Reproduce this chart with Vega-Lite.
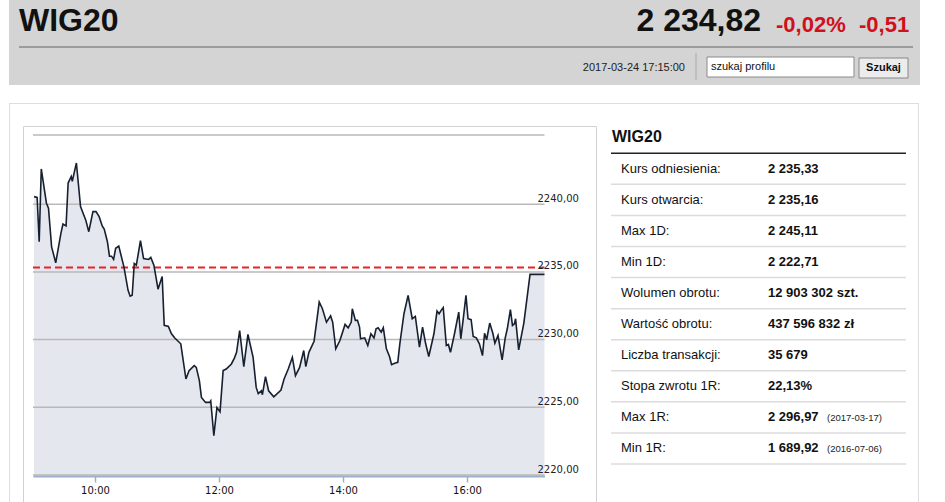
{
  "$schema": "https://vega.github.io/schema/vega-lite/v6.json",
  "background": "white",
  "padding": {"left": 8, "top": 0, "right": 0, "bottom": 0},
  "bounds": "flush",
  "spacing": 18,
  "config": {"view": {"stroke": null}, "text": {"font": "Liberation Sans"}},
  "vconcat": [
    {
      "width": 911,
      "height": 85,
      "view": {"fill": "#d4d4d4", "stroke": null},
      "layer": [
        {
          "data": {"values": [{"s": "WIG20"}]},
          "mark": {"type": "text", "fontSize": 32, "fontWeight": "bold", "align": "left", "baseline": "alphabetic", "color": "#111"},
          "encoding": {"text": {"field": "s"}, "x": {"value": 10}, "y": {"value": 31}}
        },
        {
          "data": {"values": [{"s": "2 234,82"}]},
          "mark": {"type": "text", "fontSize": 32, "fontWeight": "bold", "align": "right", "baseline": "alphabetic", "color": "#111"},
          "encoding": {"text": {"field": "s"}, "x": {"value": 752}, "y": {"value": 31}}
        },
        {
          "data": {"values": [{"s": "-0,02%"}]},
          "mark": {"type": "text", "fontSize": 22, "fontWeight": "bold", "align": "left", "baseline": "alphabetic", "color": "#d0101a"},
          "encoding": {"text": {"field": "s"}, "x": {"value": 767}, "y": {"value": 32}}
        },
        {
          "data": {"values": [{"s": "-0,51"}]},
          "mark": {"type": "text", "fontSize": 22, "fontWeight": "bold", "align": "left", "baseline": "alphabetic", "color": "#d0101a"},
          "encoding": {"text": {"field": "s"}, "x": {"value": 850}, "y": {"value": 32}}
        },
        {
          "data": {"values": [{}]},
          "mark": {"type": "rule", "stroke": "#9c9c9c", "strokeWidth": 2},
          "encoding": {"x": {"value": 10}, "x2": {"value": 904}, "y": {"value": 47}}
        },
        {
          "data": {"values": [{"s": "2017-03-24 17:15:00"}]},
          "mark": {"type": "text", "fontSize": 11, "align": "right", "baseline": "middle", "color": "#222"},
          "encoding": {"text": {"field": "s"}, "x": {"value": 676}, "y": {"value": 68}}
        },
        {
          "data": {"values": [{}]},
          "mark": {"type": "rule", "stroke": "#a8a8a8", "strokeWidth": 1},
          "encoding": {"x": {"value": 687}, "y": {"value": 53}, "y2": {"value": 80}}
        },
        {
          "data": {"values": [{}]},
          "mark": {"type": "rect", "fill": "white", "stroke": "#8a8a8a", "strokeWidth": 1},
          "encoding": {"x": {"value": 698}, "x2": {"value": 845}, "y": {"value": 57}, "y2": {"value": 77}}
        },
        {
          "data": {"values": [{"s": "szukaj profilu"}]},
          "mark": {"type": "text", "fontSize": 11, "align": "left", "baseline": "middle", "color": "#111"},
          "encoding": {"text": {"field": "s"}, "x": {"value": 702}, "y": {"value": 67}}
        },
        {
          "data": {"values": [{}]},
          "mark": {"type": "rect", "fill": "#ececec", "stroke": "#888", "strokeWidth": 1},
          "encoding": {"x": {"value": 850}, "x2": {"value": 899}, "y": {"value": 58}, "y2": {"value": 78}}
        },
        {
          "data": {"values": [{"s": "Szukaj"}]},
          "mark": {"type": "text", "fontSize": 11, "fontWeight": "bold", "align": "center", "baseline": "middle", "color": "#111"},
          "encoding": {"text": {"field": "s"}, "x": {"value": 874.5}, "y": {"value": 68}}
        }
      ]
    },
    {
      "width": 910,
      "height": 399,
      "view": {"stroke": null},
      "layer": [
        {
          "data": {"values": [{}]},
          "layer": [
            {"mark": {"type": "rule", "stroke": "#dedede"}, "encoding": {"x": {"value": 0}, "x2": {"value": 910}, "y": {"value": 0.5}}},
            {"mark": {"type": "rule", "stroke": "#dedede"}, "encoding": {"x": {"value": 0.5}, "y": {"value": 0}, "y2": {"value": 399}}},
            {"mark": {"type": "rule", "stroke": "#dedede"}, "encoding": {"x": {"value": 909.5}, "y": {"value": 0}, "y2": {"value": 399}}},
            {"mark": {"type": "rule", "stroke": "#d2d2d2"}, "encoding": {"x": {"value": 14.5}, "x2": {"value": 587.5}, "y": {"value": 23.5}}},
            {"mark": {"type": "rule", "stroke": "#d2d2d2"}, "encoding": {"x": {"value": 14.5}, "y": {"value": 23.5}, "y2": {"value": 399}}},
            {"mark": {"type": "rule", "stroke": "#d2d2d2"}, "encoding": {"x": {"value": 587.5}, "y": {"value": 23.5}, "y2": {"value": 399}}}
          ]
        },
        {
          "layer": [
            {
              "data": {
                "values": [
                  {"t": "09:01", "v": 2240.56}, {"t": "09:04", "v": 2240.5}, {"t": "09:06", "v": 2237.23}, {"t": "09:08", "v": 2242.6},
                  {"t": "09:13", "v": 2240.07}, {"t": "09:15", "v": 2239.7}, {"t": "09:18", "v": 2236.85}, {"t": "09:22", "v": 2235.67},
                  {"t": "09:27", "v": 2237.85}, {"t": "09:29", "v": 2238.54}, {"t": "09:32", "v": 2238.4}, {"t": "09:34", "v": 2241.56},
                  {"t": "09:37", "v": 2242.05}, {"t": "09:38", "v": 2241.68}, {"t": "09:42", "v": 2243.04}, {"t": "09:46", "v": 2239.82},
                  {"t": "09:51", "v": 2238.84}, {"t": "09:54", "v": 2237.97}, {"t": "09:58", "v": 2239.45}, {"t": "10:01", "v": 2239.45},
                  {"t": "10:04", "v": 2239.08}, {"t": "10:07", "v": 2238.39}, {"t": "10:09", "v": 2238.14}, {"t": "10:12", "v": 2237.23},
                  {"t": "10:14", "v": 2236.16}, {"t": "10:16", "v": 2236.16}, {"t": "10:18", "v": 2235.92}, {"t": "10:20", "v": 2236.74},
                  {"t": "10:23", "v": 2236.9}, {"t": "10:28", "v": 2235.37}, {"t": "10:32", "v": 2233.64}, {"t": "10:34", "v": 2233.2},
                  {"t": "10:36", "v": 2233.27}, {"t": "10:38", "v": 2235.62}, {"t": "10:40", "v": 2235.5}, {"t": "10:44", "v": 2237.3},
                  {"t": "10:47", "v": 2235.99}, {"t": "10:52", "v": 2235.92}, {"t": "10:54", "v": 2236.07}, {"t": "10:57", "v": 2235.5},
                  {"t": "11:01", "v": 2233.72}, {"t": "11:05", "v": 2234.66}, {"t": "11:07", "v": 2231.05}, {"t": "11:11", "v": 2230.97},
                  {"t": "11:14", "v": 2230.43}, {"t": "11:17", "v": 2230.13}, {"t": "11:23", "v": 2229.69}, {"t": "11:28", "v": 2227.09},
                  {"t": "11:31", "v": 2227.71}, {"t": "11:36", "v": 2228.08}, {"t": "11:38", "v": 2227.95}, {"t": "11:41", "v": 2226.97},
                  {"t": "11:43", "v": 2225.73}, {"t": "11:47", "v": 2225.36}, {"t": "11:51", "v": 2225.36}, {"t": "11:52", "v": 2225.48},
                  {"t": "11:55", "v": 2222.9}, {"t": "11:58", "v": 2224.98}, {"t": "12:01", "v": 2224.67}, {"t": "12:04", "v": 2227.71},
                  {"t": "12:07", "v": 2227.83}, {"t": "12:12", "v": 2228.2}, {"t": "12:15", "v": 2228.65}, {"t": "12:17", "v": 2229.06},
                  {"t": "12:20", "v": 2230.67}, {"t": "12:24", "v": 2228.0}, {"t": "12:28", "v": 2230.38}, {"t": "12:33", "v": 2228.69},
                  {"t": "12:36", "v": 2226.47}, {"t": "12:38", "v": 2226.02}, {"t": "12:41", "v": 2226.22}, {"t": "12:42", "v": 2225.93},
                  {"t": "12:45", "v": 2227.26}, {"t": "12:48", "v": 2226.22}, {"t": "12:53", "v": 2225.78}, {"t": "13:00", "v": 2226.28},
                  {"t": "13:03", "v": 2227.09}, {"t": "13:07", "v": 2227.83}, {"t": "13:11", "v": 2228.69}, {"t": "13:14", "v": 2227.34},
                  {"t": "13:18", "v": 2227.95}, {"t": "13:22", "v": 2229.19}, {"t": "13:24", "v": 2228.0}, {"t": "13:27", "v": 2229.06},
                  {"t": "13:32", "v": 2229.88}, {"t": "13:37", "v": 2232.77}, {"t": "13:40", "v": 2232.3}, {"t": "13:44", "v": 2231.29},
                  {"t": "13:48", "v": 2231.75}, {"t": "13:50", "v": 2231.29}, {"t": "13:53", "v": 2229.32}, {"t": "13:57", "v": 2229.93},
                  {"t": "14:02", "v": 2231.12}, {"t": "14:05", "v": 2230.87}, {"t": "14:08", "v": 2231.29}, {"t": "14:09", "v": 2232.28},
                  {"t": "14:12", "v": 2231.42}, {"t": "14:14", "v": 2231.42}, {"t": "14:16", "v": 2230.92}, {"t": "14:17", "v": 2230.06},
                  {"t": "14:21", "v": 2230.13}, {"t": "14:24", "v": 2229.56}, {"t": "14:27", "v": 2230.43}, {"t": "14:30", "v": 2230.13},
                  {"t": "14:32", "v": 2230.8}, {"t": "14:34", "v": 2230.87}, {"t": "14:37", "v": 2230.55}, {"t": "14:39", "v": 2230.87},
                  {"t": "14:42", "v": 2229.32}, {"t": "14:45", "v": 2228.75}, {"t": "14:47", "v": 2228.15}, {"t": "14:50", "v": 2228.25},
                  {"t": "14:53", "v": 2228.32}, {"t": "14:55", "v": 2229.69}, {"t": "14:59", "v": 2231.91}, {"t": "15:03", "v": 2233.27},
                  {"t": "15:07", "v": 2231.54}, {"t": "15:10", "v": 2231.71}, {"t": "15:14", "v": 2229.44}, {"t": "15:17", "v": 2230.92},
                  {"t": "15:20", "v": 2229.69}, {"t": "15:23", "v": 2228.75}, {"t": "15:28", "v": 2230.43}, {"t": "15:31", "v": 2232.11},
                  {"t": "15:33", "v": 2231.91}, {"t": "15:35", "v": 2232.16}, {"t": "15:37", "v": 2232.36}, {"t": "15:40", "v": 2229.56},
                  {"t": "15:42", "v": 2229.64}, {"t": "15:44", "v": 2229.06}, {"t": "15:48", "v": 2230.47}, {"t": "15:52", "v": 2232.03},
                  {"t": "15:54", "v": 2230.06}, {"t": "15:56", "v": 2231.29}, {"t": "15:59", "v": 2233.27}, {"t": "16:01", "v": 2231.54},
                  {"t": "16:04", "v": 2231.47}, {"t": "16:06", "v": 2230.23}, {"t": "16:09", "v": 2230.13}, {"t": "16:12", "v": 2229.69},
                  {"t": "16:15", "v": 2228.82}, {"t": "16:17", "v": 2230.47}, {"t": "16:19", "v": 2229.99}, {"t": "16:22", "v": 2231.22},
                  {"t": "16:25", "v": 2230.47}, {"t": "16:27", "v": 2229.73}, {"t": "16:30", "v": 2230.3}, {"t": "16:34", "v": 2228.5},
                  {"t": "16:37", "v": 2230.13}, {"t": "16:39", "v": 2230.8}, {"t": "16:42", "v": 2232.21}, {"t": "16:44", "v": 2231.05},
                  {"t": "16:46", "v": 2231.17}, {"t": "16:47", "v": 2231.54}, {"t": "16:50", "v": 2229.24}, {"t": "16:55", "v": 2231.22},
                  {"t": "17:01", "v": 2234.82}, {"t": "17:15", "v": 2234.82}
                ],
                "format": {"parse": {"t": "date:'%H:%M'"}}
              },
              "layer": [
                {
                  "mark": {"type": "area", "fill": "#e4e7ee"},
                  "encoding": {
                    "x": {
                      "field": "t", "type": "temporal",
                      "scale": {"domain": [{"year": 1900, "month": 1, "date": 1, "hours": 9}, {"year": 1900, "month": 1, "date": 1, "hours": 17, "minutes": 15}], "range": [24, 535.5], "nice": false},
                      "axis": {
                        "orient": "bottom", "offset": -26, "zindex": 1, "title": null, "grid": false, "format": "%H:%M",
                        "values": [{"year": 1900, "month": 1, "date": 1, "hours": 10}, {"year": 1900, "month": 1, "date": 1, "hours": 12}, {"year": 1900, "month": 1, "date": 1, "hours": 14}, {"year": 1900, "month": 1, "date": 1, "hours": 16}],
                        "domainColor": "#9db0c9", "domainWidth": 2, "tickColor": "#9db0c9", "tickWidth": 1.5, "tickSize": 6,
                        "labelFont": "DejaVu Sans", "labelFontSize": 10, "labelColor": "#111", "labelPadding": 3
                      }
                    },
                    "y": {
                      "field": "v", "type": "quantitative",
                      "scale": {"domain": [2220, 2245.11], "range": [372, 32], "nice": false, "zero": false},
                      "axis": {
                        "orient": "right", "offset": -382, "zindex": 1, "title": null, "grid": false, "domain": false, "ticks": false, "tickSize": 0,
                        "labelPadding": 0, "values": [2220, 2225, 2230, 2235, 2240], "labelAlign": "left", "labelBaseline": "bottom", "labelOffset": -1,
                        "labelExpr": "replace(format(datum.value, '.2f'), '.', ',')",
                        "labelFont": "DejaVu Sans", "labelFontSize": 10, "labelColor": "#222", "labelOverlap": false, "labelBound": false, "labelFlush": false
                      }
                    },
                    "y2": {"datum": 2220}
                  }
                },
                {
                  "data": {"values": [{"g": 2220}, {"g": 2225}, {"g": 2230}, {"g": 2235}, {"g": 2240}, {"g": 2245.11}]},
                  "mark": {"type": "rule", "stroke": "#b9b9b9", "strokeWidth": 1.5},
                  "encoding": {
                    "x": {"datum": {"year": 1900, "month": 1, "date": 1, "hours": 9}, "type": "temporal"},
                    "x2": {"datum": {"year": 1900, "month": 1, "date": 1, "hours": 17, "minutes": 15}},
                    "y": {"field": "g", "type": "quantitative"}
                  }
                },
                {
                  "data": {"values": [{"ref": 2235.33}]},
                  "mark": {"type": "rule", "stroke": "#e8232b", "strokeWidth": 2, "strokeDash": [7, 4]},
                  "encoding": {
                    "x": {"datum": {"year": 1900, "month": 1, "date": 1, "hours": 9}, "type": "temporal"},
                    "x2": {"datum": {"year": 1900, "month": 1, "date": 1, "hours": 17, "minutes": 15}},
                    "y": {"field": "ref", "type": "quantitative"}
                  }
                },
                {
                  "mark": {"type": "line", "stroke": "#172030", "strokeWidth": 1.6},
                  "encoding": {
                    "x": {"field": "t", "type": "temporal"},
                    "y": {"field": "v", "type": "quantitative"}
                  }
                }
              ]
            }
          ]
        },
        {
          "data": {
            "values": [
              {"k": "Kurs odniesienia:", "val": "2 235,33", "d": ""},
              {"k": "Kurs otwarcia:", "val": "2 235,16", "d": ""},
              {"k": "Max 1D:", "val": "2 245,11", "d": ""},
              {"k": "Min 1D:", "val": "2 222,71", "d": ""},
              {"k": "Wolumen obrotu:", "val": "12 903 302 szt.", "d": ""},
              {"k": "Wartość obrotu:", "val": "437 596 832 zł", "d": ""},
              {"k": "Liczba transakcji:", "val": "35 679", "d": ""},
              {"k": "Stopa zwrotu 1R:", "val": "22,13%", "d": ""},
              {"k": "Max 1R:", "val": "2 296,97", "d": "(2017-03-17)"},
              {"k": "Min 1R:", "val": "1 689,92", "d": "(2016-07-06)"}
            ]
          },
          "encoding": {
            "y": {"field": "k", "type": "nominal", "sort": null, "axis": null, "scale": {"type": "band", "range": [50.3, 361], "paddingInner": 0, "paddingOuter": 0}}
          },
          "layer": [
            {
              "mark": {"type": "rule", "stroke": "#dcdcdc", "strokeWidth": 1.5},
              "encoding": {
                "y": {"field": "k", "type": "nominal", "sort": null, "axis": null, "bandPosition": 1},
                "x": {"value": 602}, "x2": {"value": 897}
              }
            },
            {
              "mark": {"type": "text", "fontSize": 13, "align": "left", "baseline": "middle", "color": "#111"},
              "encoding": {"text": {"field": "k"}, "x": {"value": 612}}
            },
            {
              "mark": {"type": "text", "fontSize": 13, "fontWeight": "bold", "align": "left", "baseline": "middle", "color": "#111"},
              "encoding": {"text": {"field": "val"}, "x": {"value": 759}}
            },
            {
              "mark": {"type": "text", "fontSize": 9.5, "align": "left", "baseline": "middle", "dy": 1, "color": "#222"},
              "encoding": {"text": {"field": "d"}, "x": {"value": 818}}
            }
          ]
        },
        {
          "data": {"values": [{"s": "WIG20"}]},
          "layer": [
            {
              "mark": {"type": "text", "fontSize": 16, "fontWeight": "bold", "align": "left", "baseline": "middle", "color": "#111"},
              "encoding": {"text": {"field": "s"}, "x": {"value": 603}, "y": {"value": 34}}
            },
            {
              "mark": {"type": "rule", "stroke": "#222", "strokeWidth": 1.5},
              "encoding": {"x": {"value": 602}, "x2": {"value": 897}, "y": {"value": 50.3}}
            }
          ]
        }
      ],
      "resolve": {"scale": {"x": "independent", "y": "independent"}}
    }
  ]
}
